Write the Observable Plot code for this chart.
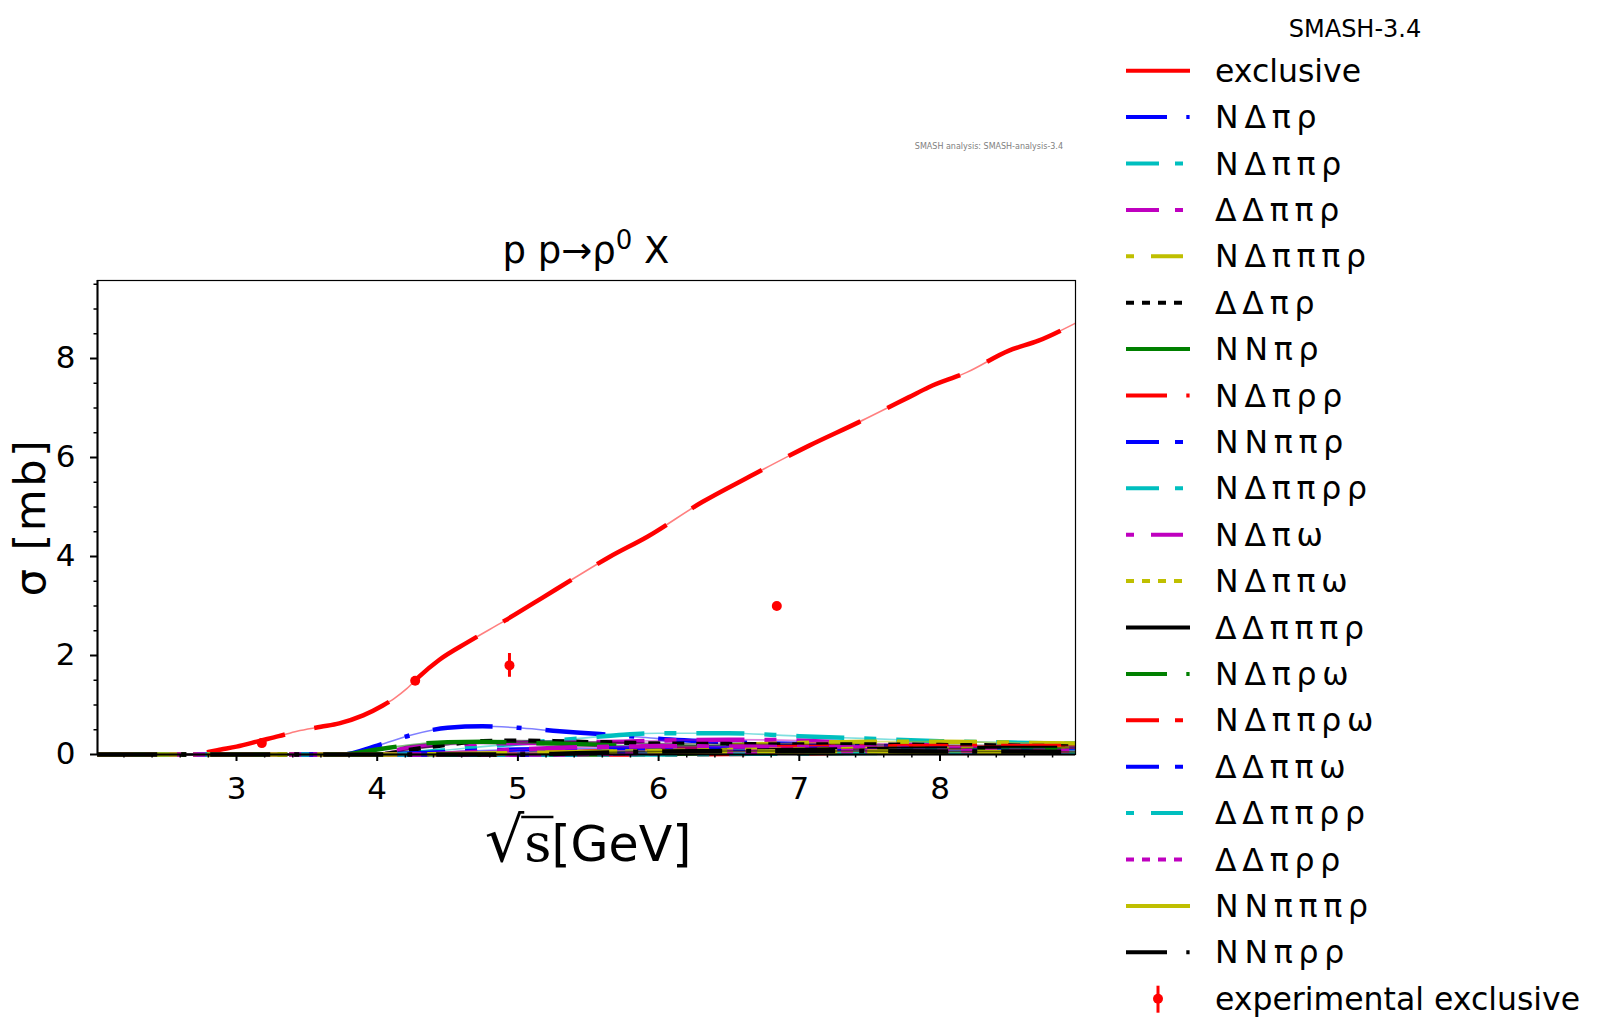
<!DOCTYPE html>
<html><head><meta charset="utf-8">
<script src="https://cdn.jsdelivr.net/npm/d3@7"></script>
<script src="https://cdn.jsdelivr.net/npm/@observablehq/plot@0.6"></script>
<style>
html,body{margin:0;padding:0;background:#fff;}
#wrap{position:relative;width:1600px;height:1035px;overflow:hidden;font-family:"DejaVu Sans",sans-serif;}
#wrap > svg{position:absolute;left:0;top:0;}
</style></head><body><div id="wrap"></div>
<script>
// ---------- data ----------
const xDomain = [2.012, 8.963];
const yDomain = [0, 9.576];
const xMajorTicks = [3, 4, 5, 6, 7, 8];
const xMinorTicks = [2.2, 2.4, 2.6, 2.8, 3.2, 3.4, 3.6, 3.8, 4.2, 4.4, 4.6, 4.8, 5.2, 5.4, 5.6, 5.8, 6.2, 6.4, 6.6, 6.8, 7.2, 7.4, 7.6, 7.8, 8.2, 8.4, 8.6, 8.8];
const yMajorTicks = [0, 2, 4, 6, 8];
const yMinorTicks = [0.5, 1, 1.5, 2.5, 3, 3.5, 4.5, 5, 5.5, 6.5, 7, 7.5, 8.5, 9, 9.5];

const titleMain = "p p\u2192\u03c1";
const titleSup = "0";
const titleEnd = " X";
const legendTitle = "SMASH-3.4";
const watermark = "SMASH analysis: SMASH-analysis-3.4";

const exclX = [2.01, 2.5, 2.72, 2.8, 2.89, 3.0, 3.17, 3.3, 3.43, 3.6, 3.73, 3.9, 4.04, 4.12, 4.21, 4.3, 4.44, 4.65, 4.91, 5.17, 5.41, 5.65, 5.92, 6.31, 6.65, 7.07, 7.42, 7.78, 7.92, 8.19, 8.49, 8.70, 8.96];
const exclY = [0, 0, 0, 0.05, 0.1, 0.16, 0.28, 0.37, 0.47, 0.56, 0.63, 0.79, 0.99, 1.13, 1.33, 1.58, 1.91, 2.28, 2.71, 3.16, 3.58, 3.99, 4.40, 5.10, 5.62, 6.24, 6.71, 7.22, 7.42, 7.72, 8.16, 8.36, 8.71];

const expX = [3.18, 4.27, 4.94, 6.84];
const expY = [0.23, 1.49, 1.80, 3.00];
const expErr = [0, 0, 0.24, 0];

const chanX = [2.01, 3.0, 3.75, 4.0, 4.25, 4.5, 4.75, 5.0, 5.25, 5.5, 5.75, 6.0, 6.5, 7.0, 7.5, 8.0, 8.5, 8.96];

const channelNames = ["N \u0394 \u03c0 \u03c1", "N \u0394 \u03c0 \u03c0 \u03c1", "\u0394 \u0394 \u03c0 \u03c0 \u03c1", "N \u0394 \u03c0 \u03c0 \u03c0 \u03c1", "\u0394 \u0394 \u03c0 \u03c1", "N N \u03c0 \u03c1", "N \u0394 \u03c0 \u03c1 \u03c1", "N N \u03c0 \u03c0 \u03c1", "N \u0394 \u03c0 \u03c0 \u03c1 \u03c1", "N \u0394 \u03c0 \u03c9", "N \u0394 \u03c0 \u03c0 \u03c9", "\u0394 \u0394 \u03c0 \u03c0 \u03c0 \u03c1", "N \u0394 \u03c0 \u03c1 \u03c9", "N \u0394 \u03c0 \u03c0 \u03c1 \u03c9", "\u0394 \u0394 \u03c0 \u03c0 \u03c9", "\u0394 \u0394 \u03c0 \u03c0 \u03c1 \u03c1", "\u0394 \u0394 \u03c0 \u03c1 \u03c1", "N N \u03c0 \u03c0 \u03c0 \u03c1", "N N \u03c0 \u03c1 \u03c1"];

const chNDpr     = [0,0,0,0.18,0.40,0.54,0.57,0.54,0.48,0.43,0.38,0.32,0.25,0.21,0.18,0.15,0.12,0.10];
const chNDppr    = [0,0,0,0,0.03,0.09,0.16,0.22,0.28,0.34,0.40,0.43,0.43,0.37,0.32,0.27,0.24,0.22];
const chDDppr    = [0,0,0,0.02,0.15,0.20,0.22,0.23,0.23,0.25,0.26,0.28,0.30,0.28,0.22,0.18,0.15,0.13];
const chNDpppr   = [0,0,0,0,0,0,0.01,0.03,0.05,0.08,0.11,0.14,0.19,0.23,0.26,0.26,0.24,0.22];
const chDDpr     = [0,0,0,0,0.10,0.20,0.27,0.28,0.27,0.25,0.24,0.22,0.21,0.20,0.20,0.19,0.18,0.16];
const chNNpr     = [0,0,0,0.10,0.20,0.25,0.26,0.24,0.22,0.20,0.18,0.16,0.14,0.12,0.10,0.09,0.08,0.08];
const chNDprr    = [0,0,0,0,0,0,0,0.02,0.04,0.06,0.08,0.10,0.13,0.15,0.16,0.17,0.17,0.17];
const chNNppr    = [0,0,0,0,0.02,0.05,0.08,0.10,0.11,0.12,0.13,0.13,0.13,0.12,0.11,0.10,0.10,0.09];
const chNDpprr   = [0,0,0,0,0,0,0,0,0,0.01,0.02,0.03,0.05,0.07,0.09,0.10,0.11,0.11];
const chNDpw     = [0,0,0,0,0,0.02,0.06,0.10,0.13,0.15,0.16,0.17,0.16,0.15,0.14,0.12,0.11,0.10];
const chNDppw    = [0,0,0,0,0,0,0,0,0.02,0.04,0.06,0.07,0.09,0.10,0.11,0.11,0.11,0.11];
const chDDpppr   = [0,0,0,0,0,0,0,0,0.01,0.02,0.03,0.04,0.07,0.09,0.11,0.12,0.13,0.13];
const chNDprw    = [0,0,0,0,0,0,0,0,0,0,0,0.01,0.03,0.05,0.07,0.08,0.09,0.09];
const chNDpprw   = [0,0,0,0,0,0,0,0,0,0,0,0,0.01,0.02,0.04,0.05,0.06,0.07];
const chDDppw    = [0,0,0,0,0,0,0,0,0,0.01,0.03,0.04,0.05,0.06,0.07,0.07,0.07,0.07];
const chDDpprr   = [0,0,0,0,0,0,0,0,0,0,0,0,0.01,0.02,0.03,0.04,0.05,0.05];
const chDDprr    = [0,0,0,0,0,0,0,0,0,0.01,0.02,0.03,0.05,0.06,0.07,0.07,0.07,0.07];
const chNNpppr   = [0,0,0,0,0,0.01,0.02,0.03,0.04,0.05,0.06,0.06,0.06,0.06,0.06,0.05,0.05,0.05];
const chNNprr    = [0,0,0,0,0,0,0,0,0.01,0.03,0.05,0.06,0.07,0.07,0.07,0.06,0.06,0.05];

const channelValues = [chNDpr, chNDppr, chDDppr, chNDpppr, chDDpr, chNNpr, chNDprr, chNNppr, chNDpprr, chNDpw, chNDppw, chDDpppr, chNDprw, chNDpprw, chDDppw, chDDpprr, chDDprr, chNNpppr, chNNprr];

// colour / style cycles (matplotlib classic)
const colorCycle = ["#ff0000", "#0000ff", "#00bfbf", "#bf00bf", "#bfbf00", "#000000", "#008000"];
const legendDash = [null, "41,19.3,3.3,19.3", "33,16,8,16", "33,16,8,16", "8,17,32,17", "8,8"];
const plotDash   = ["80,30", "60,24,5,24", "48,20,12,20", "48,20,12,20", "12,20,48,20", "12,12"];

// ---------- build ----------
const series = [{name: "exclusive", xs: exclX, ys: exclY}].concat(
  channelNames.map((n, i) => ({name: n, xs: chanX, ys: channelValues[i]}))
);
series.forEach((s, i) => {
  s.color = colorCycle[i % 7];
  s.styleIdx = i % 6;
  s.rows = s.xs.map((x, j) => ({x, y: s.ys[j]}));
});
const expRows = expX.map((x, i) => ({x, y: expY[i], e: expErr[i]}));

const marks = [];
series.forEach(s => {
  marks.push(Plot.line(s.rows, {x: "x", y: "y", stroke: s.color, strokeWidth: 1.6, strokeOpacity: 0.5, curve: "monotone-x"}));
  marks.push(Plot.line(s.rows, {x: "x", y: "y", stroke: s.color, strokeWidth: 4.5, strokeDasharray: plotDash[s.styleIdx], strokeLinecap: "butt", curve: "monotone-x"}));
});
marks.push(Plot.ruleX(expRows, {x: "x", y1: d => d.y - d.e, y2: d => d.y + d.e, stroke: "#ff0000", strokeWidth: 3}));
marks.push(Plot.dot(expRows, {x: "x", y: "y", r: 5, fill: "#ff0000", stroke: "none"}));
marks.push(Plot.frame({stroke: "black", strokeWidth: 1.2}));
marks.push(Plot.ruleX([xDomain[0]], {stroke: "black", strokeWidth: 2}));
marks.push(Plot.ruleY([yDomain[0]], {stroke: "black", strokeWidth: 2}));
marks.push(Plot.axisX(xMajorTicks, {tickSize: 7, tickPadding: 15, fontSize: 31, label: null, strokeWidth: 2, tickFormat: d => String(d)}));
marks.push(Plot.axisX(xMinorTicks, {tickSize: 3.5, text: null, label: null, strokeWidth: 1.5}));
marks.push(Plot.axisY(yMajorTicks, {tickSize: 7, tickPadding: 15, fontSize: 31, label: null, strokeWidth: 2, tickFormat: d => String(d)}));
marks.push(Plot.axisY(yMinorTicks, {tickSize: 3.5, text: null, label: null, strokeWidth: 1.5}));

const chart = Plot.plot({
  width: 1600, height: 1035,
  marginLeft: 97, marginRight: 525, marginTop: 280, marginBottom: 281,
  style: {fontFamily: "DejaVu Sans", background: "transparent", color: "black"},
  x: {domain: xDomain},
  y: {domain: yDomain},
  marks
});
const wrap = document.getElementById("wrap");
wrap.appendChild(chart);

// ---------- overlay texts & legend ----------
const ov = d3.select(wrap).append("svg")
  .attr("width", 1600).attr("height", 1035)
  .style("font-family", "DejaVu Sans")
  .style("pointer-events", "none");

const tt = ov.append("text").attr("x", 586).attr("y", 263).attr("text-anchor", "middle").attr("font-size", 37);
tt.append("tspan").text(titleMain);
tt.append("tspan").attr("font-size", 26).attr("dy", -14).text(titleSup);
tt.append("tspan").attr("dy", 14).text(titleEnd);

ov.append("text").attr("x", 1063).attr("y", 149).attr("text-anchor", "end")
  .attr("font-size", 8).attr("fill", "#808080").text(watermark);

// y label
ov.append("text").attr("transform", "translate(45,517) rotate(-90)")
  .attr("text-anchor", "middle").attr("font-size", 43).attr("letter-spacing", 2.5).text("\u03c3 [mb]");

// x label with radical
const xl = ov.append("text").attr("x", 588).attr("y", 861).attr("text-anchor", "middle");
xl.append("tspan").attr("font-size", 62).text("\u221a");
xl.append("tspan").attr("font-size", 53).attr("font-family", "DejaVu Serif").text("s");
xl.append("tspan").attr("font-size", 49).text("[GeV]");
const xlNode = xl.node();
const rad = xlNode.getExtentOfChar(0);
const sExt = xlNode.getExtentOfChar(1);
ov.append("line")
  .attr("x1", rad.x + rad.width - 3).attr("x2", sExt.x + sExt.width + 2)
  .attr("y1", 817).attr("y2", 817).attr("stroke", "black").attr("stroke-width", 2.5);

// legend
ov.append("text").attr("x", 1355).attr("y", 37).attr("text-anchor", "middle")
  .attr("font-size", 24).text(legendTitle);
const lg0 = 70.7, lgStep = 46.4;
series.forEach((s, i) => {
  const yy = lg0 + i * lgStep;
  const ln = ov.append("line").attr("x1", 1126).attr("x2", 1190).attr("y1", yy).attr("y2", yy)
    .attr("stroke", s.color).attr("stroke-width", 4).attr("stroke-linecap", "butt");
  if (legendDash[s.styleIdx]) ln.attr("stroke-dasharray", legendDash[s.styleIdx]);
  ov.append("text").attr("x", 1215).attr("y", yy + 11).attr("font-size", 31.5)
    .attr("word-spacing", i > 0 ? -4.2 : 0).text(s.name);
});
{
  const yy = lg0 + series.length * lgStep;
  ov.append("line").attr("x1", 1158).attr("x2", 1158).attr("y1", yy - 13).attr("y2", yy + 14)
    .attr("stroke", "#ff0000").attr("stroke-width", 3);
  ov.append("circle").attr("cx", 1158).attr("cy", yy).attr("r", 5).attr("fill", "#ff0000");
  ov.append("text").attr("x", 1215).attr("y", yy + 11).attr("font-size", 31.5).text("experimental exclusive");
}
</script>
</body></html>
